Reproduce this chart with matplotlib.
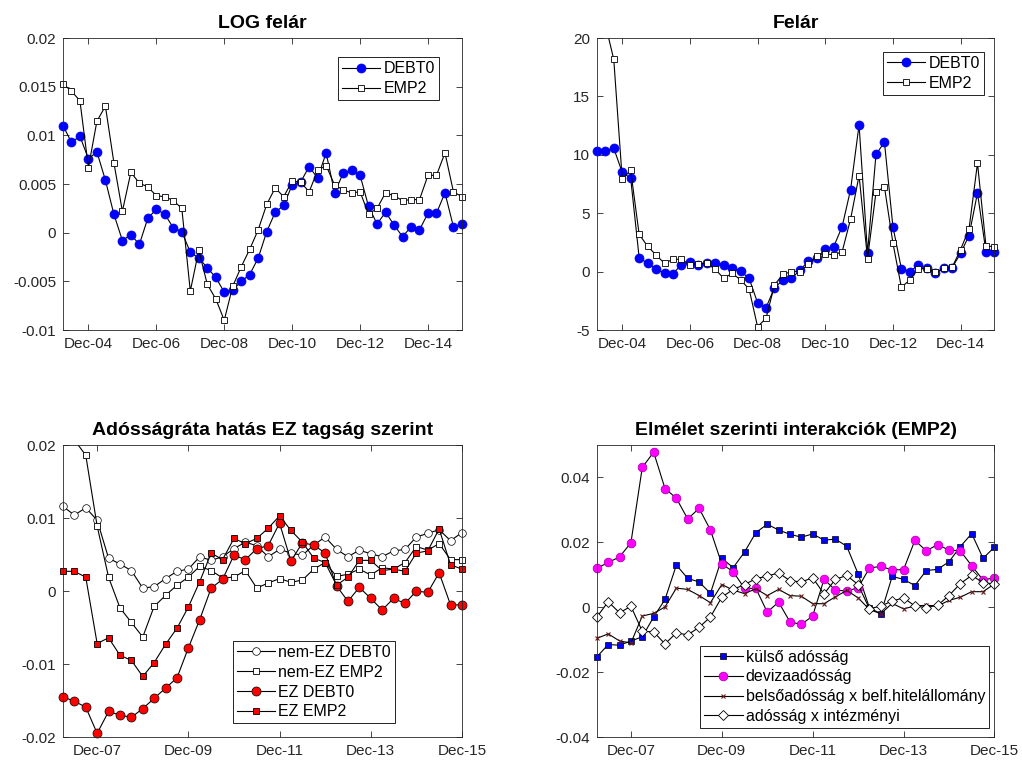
import matplotlib
matplotlib.use("Agg")
import matplotlib.pyplot as plt
from matplotlib.ticker import FuncFormatter

plt.rcParams['font.family'] = ['Liberation Sans', 'DejaVu Sans']

# quarterly axis labels
ticks_top = ['Dec-04', 'Dec-06', 'Dec-08', 'Dec-10', 'Dec-12', 'Dec-14']
ticks_bottom = ['Dec-07', 'Dec-09', 'Dec-11', 'Dec-13', 'Dec-15']

# LOG felár (Mar-04 .. Dec-15)
log_debt0 = [0.0110, 0.0093, 0.0099, 0.0076, 0.0083, 0.0054, 0.0019, -0.0008,
             -0.0002, -0.0012, 0.0015, 0.0024, 0.0019, 0.0005, 0.0001, -0.0020,
             -0.0026, -0.0036, -0.0046, -0.0061, -0.0059, -0.0050, -0.0043, -0.0026,
             0.0001, 0.0021, 0.0028, 0.0049, 0.0052, 0.0068, 0.0056, 0.0082,
             0.0041, 0.0061, 0.0064, 0.0059, 0.0027, 0.0009, 0.0021, 0.0008,
             -0.0004, 0.0006, 0.0003, 0.0020, 0.0020, 0.0041, 0.0006, 0.0009]
log_emp2 = [0.0153, 0.01455, 0.01355, 0.0067, 0.01146, 0.0130, 0.0072, 0.0022,
            0.0062, 0.0051, 0.0047, 0.0038, 0.0037, 0.0033, 0.0025, -0.0060,
            -0.0018, -0.0053, -0.0068, -0.0090, -0.0055, -0.0035, -0.0017, 0.0003,
            0.0029, 0.0046, 0.0037, 0.0053, 0.0052, 0.0042, 0.0064, 0.0069,
            0.0049, 0.0044, 0.0041, 0.0042, 0.0019, 0.0025, 0.0041, 0.0038,
            0.0033, 0.0034, 0.0034, 0.0059, 0.0059, 0.0082, 0.0042, 0.0037]

# Felár (Mar-04 .. Dec-15)
fel_debt0 = [10.29, 10.29, 10.57, 8.49, 8.0, 1.2, 0.71, 0.2,
             -0.11, -0.17, 0.6, 0.86, 0.54, 0.77, 0.74, 0.57,
             0.29, 0.03, -0.57, -2.66, -3.09, -1.37, -0.74, -0.57,
             0.11, 0.91, 1.14, 1.94, 2.14, 3.86, 7.03, 12.57,
             1.6, 10.03, 11.09, 3.86, 0.26, 0.0, 0.57, 0.29,
             -0.14, 0.29, 0.34, 1.57, 3.09, 6.74, 1.71, 1.71]
fel_emp2 = [23.0, 21.2, 18.17, 7.94, 8.66, 3.2, 2.17, 1.43,
            0.71, 1.06, 1.06, 0.6, 0.69, 0.71, 0.2, -0.57,
            -0.14, -0.71, -1.49, -4.71, -4.0, -1.14, -0.23, 0.0,
            0.0, 0.63, 1.34, 1.54, 1.43, 1.71, 4.51, 8.23,
            1.11, 6.8, 7.26, 2.46, -1.34, -0.71, 0.26, 0.26,
            -0.06, 0.29, 0.37, 1.89, 3.66, 9.29, 2.23, 2.11]

# Adósságráta hatás EZ tagság szerint (Mar-07 .. Dec-15)
nez_debt0 = [0.0116, 0.0104, 0.0114, 0.0097, 0.0045, 0.0037, 0.0028, 0.0004,
             0.0006, 0.0017, 0.0027, 0.0030, 0.0047, 0.0042, 0.0047, 0.0058,
             0.0067, 0.0062, 0.0047, 0.0057, 0.0052, 0.0049, 0.0063, 0.0074,
             0.0057, 0.0047, 0.0056, 0.0051, 0.0047, 0.0055, 0.0057, 0.0074,
             0.0079, 0.0084, 0.0069, 0.0080]
nez_emp2 = [0.0235, 0.0207, 0.0186, 0.0089, 0.0019, -0.0023, -0.0043, -0.0063,
            -0.0021, -0.0006, 0.0008, 0.0019, 0.0034, 0.0028, 0.0018, 0.0019,
            0.0028, 0.0004, 0.0011, 0.0017, 0.0012, 0.0015, 0.0030, 0.0039,
            0.0020, 0.0023, 0.0030, 0.0022, 0.0032, 0.0030, 0.0039, 0.0061,
            0.0056, 0.0065, 0.0043, 0.0043]
ez_debt0 = [-0.0145, -0.0151, -0.0159, -0.0195, -0.0165, -0.0170, -0.0173, -0.0161,
            -0.0147, -0.0133, -0.0119, -0.0078, -0.0039, 0.0004, 0.0016, 0.0049,
            0.0043, 0.0058, 0.0062, 0.0093, 0.0041, 0.0066, 0.0063, 0.0052,
            0.0007, -0.0014, 0.0005, -0.0010, -0.0026, -0.0010, -0.0017, 0.0000,
            -0.0002, 0.0025, -0.0019, -0.0019]
ez_emp2 = [0.0027, 0.0027, 0.0019, -0.0072, -0.0064, -0.0088, -0.0095, -0.0117,
           -0.0098, -0.0073, -0.0051, -0.0022, 0.0013, 0.0052, 0.0043, 0.0072,
           0.0065, 0.0072, 0.0086, 0.0103, 0.0083, 0.0067, 0.0045, 0.0039,
           0.0008, 0.0019, 0.0042, 0.0042, 0.0028, 0.0030, 0.0027, 0.0052,
           0.0055, 0.0085, 0.0036, 0.0030]

# Elmélet szerinti interakciók (EMP2), Mar-07 .. Dec-15
kulso = [-0.0153, -0.0115, -0.0117, -0.0104, -0.0091, -0.0030, 0.0024, 0.0130,
         0.0089, 0.0078, 0.0043, 0.0151, 0.0122, 0.0170, 0.0230, 0.0256,
         0.0238, 0.0225, 0.0216, 0.0226, 0.0207, 0.0210, 0.0188, 0.0103,
         -0.0002, -0.0020, 0.0095, 0.0086, 0.0067, 0.0113, 0.0117, 0.0140,
         0.0187, 0.0227, 0.0151, 0.0185]
deviza = [0.0120, 0.0138, 0.0155, 0.0199, 0.0431, 0.0478, 0.0366, 0.0336,
          0.0272, 0.0305, 0.0238, 0.0133, 0.0110, 0.0058, 0.0058, -0.0015,
          0.0016, -0.0045, -0.0053, -0.0027, 0.0086, 0.0053, 0.0050, 0.0060,
          0.0121, 0.0126, 0.0115, 0.0116, 0.0206, 0.0174, 0.0193, 0.0176,
          0.0174, 0.0128, 0.0084, 0.0091]
belso = [-0.0096, -0.0082, -0.0104, -0.0110, -0.0027, -0.0019, 0.0001, 0.0059,
         0.0055, 0.0036, 0.0014, 0.0070, 0.0053, 0.0042, 0.0057, 0.0036,
         0.0055, 0.0036, 0.0034, 0.0011, 0.0011, 0.0032, 0.0052, 0.0029,
         -0.0007, -0.0020, 0.0012, -0.0005, 0.0004, 0.0006, 0.0004, 0.0021,
         0.0031, 0.0048, 0.0048, 0.0072]
intezmenyi = [-0.0030, 0.0017, -0.0017, 0.0003, -0.0074, -0.0076, -0.0113, -0.0079,
              -0.0085, -0.0062, -0.0030, 0.0031, 0.0055, 0.0070, 0.0088, 0.0096,
              0.0106, 0.0082, 0.0078, 0.0091, 0.0041, 0.0086, 0.0098, 0.0070,
              -0.0005, 0.0004, 0.0019, 0.0029, 0.0004, -0.0001, 0.0006, 0.0036,
              0.0073, 0.0098, 0.0076, 0.0072]

AXCOL = '#262626'
LW = 0.8
fmt = FuncFormatter(lambda v, p: '%g' % round(v, 6))


def series(ax, y, ylim, label, marker, **mstyle):
    """Line clipped to the axes, markers drawn whole (but only inside ylim)."""
    z = 2 + 0.1 * len(ax.get_legend_handles_labels()[0])
    x = list(range(len(y)))
    ax.plot(x, y, '-', color='black', lw=LW, zorder=z)
    pts = [(i, v) for i, v in zip(x, y) if ylim[0] <= v <= ylim[1]]
    ax.plot([p[0] for p in pts], [p[1] for p in pts], ls='none',
            marker=marker, clip_on=False, zorder=z + 0.05, **mstyle)
    # legend proxy
    ax.plot([], [], '-', color='black', lw=LW, marker=marker, label=label,
            **mstyle)


def style_axes(ax, title, n, ticklabels, ylim, yticks):
    ax.set_xlim(0, n - 1)
    ax.set_xticks(range(3, n, 8))
    ax.set_xticklabels(ticklabels)
    ax.set_ylim(*ylim)
    ax.set_yticks(yticks)
    ax.yaxis.set_major_formatter(fmt)
    ax.tick_params(direction='in', top=True, right=True, length=4, width=0.6,
                   color=AXCOL, labelcolor=AXCOL, labelsize=11, pad=5)
    for s in ax.spines.values():
        s.set_color(AXCOL)
        s.set_linewidth(0.6)
    ax.set_title(title, fontsize=14, fontweight='bold', pad=7)


def add_legend(ax, loc, anchor):
    leg = ax.legend(loc=loc, bbox_to_anchor=anchor, borderaxespad=0,
                    fontsize=11.5, handlelength=2.4, handletextpad=0.2,
                    labelspacing=0.3, borderpad=0.25, fancybox=False,
                    framealpha=1, edgecolor='black')
    leg.get_frame().set_linewidth(0.6)
    leg.set_zorder(5)


blue_dot = dict(ms=6.5, mfc='#0000ff', mec='#0000e0', mew=0.5)
white_sq = dict(ms=4.2, mfc='white', mec='black', mew=0.6)
white_dot = dict(ms=5.5, mfc='white', mec='black', mew=0.5)
red_dot = dict(ms=6.5, mfc='#ff0000', mec='black', mew=0.5)
red_sq = dict(ms=4.2, mfc='#ff0000', mec='black', mew=0.6)
blue_sq = dict(ms=4.5, mfc='#0000ff', mec='black', mew=0.5)
magenta_dot = dict(ms=6.3, mfc='#ff00ff', mec='#a000a0', mew=0.5)
cross = dict(ms=3.5, mec='#6a1a1a', mew=0.8)
white_dia = dict(ms=5, mfc='white', mec='black', mew=0.6)

fig = plt.figure(figsize=(10.22, 7.64), dpi=100)
ax1 = fig.add_axes([0.0616, 0.568, 0.3904, 0.3822])
ax2 = fig.add_axes([0.5840, 0.568, 0.3890, 0.3822])
ax3 = fig.add_axes([0.0616, 0.0353, 0.3904, 0.3822])
ax4 = fig.add_axes([0.5840, 0.0353, 0.3890, 0.3822])

# top left
yl = (-0.01, 0.02)
series(ax1, log_debt0, yl, 'DEBT0', 'o', **blue_dot)
series(ax1, log_emp2, yl, 'EMP2', 's', **white_sq)
style_axes(ax1, 'LOG felár', len(log_debt0), ticks_top, yl,
           [-0.01, -0.005, 0, 0.005, 0.01, 0.015, 0.02])
add_legend(ax1, 'upper right', (0.942, 0.934))

# top right
yl = (-5, 20)
series(ax2, fel_debt0, yl, 'DEBT0', 'o', **blue_dot)
series(ax2, fel_emp2, yl, 'EMP2', 's', **white_sq)
style_axes(ax2, 'Felár', len(fel_debt0), ticks_top, yl,
           [-5, 0, 5, 10, 15, 20])
add_legend(ax2, 'upper right', (0.973, 0.953))

# bottom left
yl = (-0.02, 0.02)
series(ax3, nez_debt0, yl, 'nem-EZ DEBT0', 'o', **white_dot)
series(ax3, nez_emp2, yl, 'nem-EZ EMP2', 's', **white_sq)
series(ax3, ez_debt0, yl, 'EZ DEBT0', 'o', **red_dot)
series(ax3, ez_emp2, yl, 'EZ EMP2', 's', **red_sq)
style_axes(ax3, 'Adósságráta hatás EZ tagság szerint', len(nez_debt0),
           ticks_bottom, yl, [-0.02, -0.01, 0, 0.01, 0.02])
add_legend(ax3, 'lower right', (0.832, 0.047))

# bottom right
yl = (-0.04, 0.05)
series(ax4, kulso, yl, 'külső adósság', 's', **blue_sq)
series(ax4, deviza, yl, 'devizaadósság', 'o', **magenta_dot)
series(ax4, belso, yl, 'belsőadósság x belf.hitelállomány', 'x', **cross)
series(ax4, intezmenyi, yl, 'adósság x intézményi', 'D', **white_dia)
style_axes(ax4, 'Elmélet szerinti interakciók (EMP2)', len(kulso),
           ticks_bottom, yl, [-0.04, -0.02, 0, 0.02, 0.04])
add_legend(ax4, 'lower right', (0.987, 0.031))

fig.savefig('out.png', dpi=100)
